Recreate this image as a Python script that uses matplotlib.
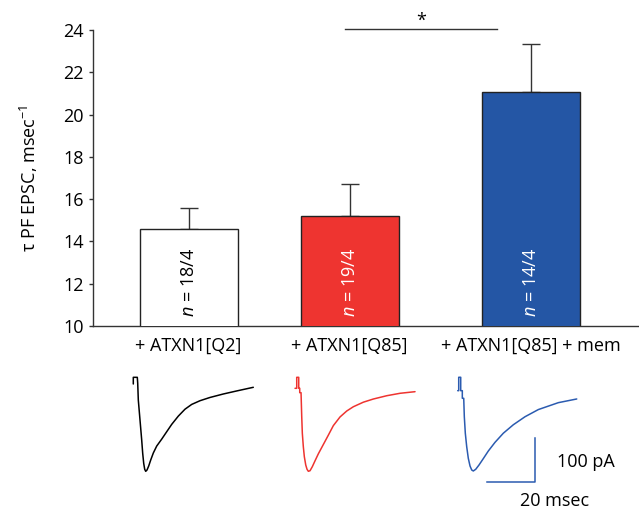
import matplotlib
matplotlib.use("Agg")
import matplotlib.pyplot as plt
import numpy as np

plt.rcParams['font.family'] = ['Open Sans', 'DejaVu Sans']
plt.rcParams['mathtext.fontset'] = 'custom'
plt.rcParams['mathtext.rm'] = 'Open Sans'
plt.rcParams['mathtext.it'] = 'Open Sans:italic'

# ---------------- data ----------------
categories = ['+ ATXN1[Q2]', '+ ATXN1[Q85]', '+ ATXN1[Q85] + mem']
means = [14.6, 15.2, 21.05]
sems = [1.0, 1.5, 2.3]
n_labels = ['18/4', '19/4', '14/4']
y_ticks = [10, 12, 14, 16, 18, 20, 22, 24]
sig_label = '*'

# example EPSC traces (time in ms, current in pA)
t_q2 = [0, 0, 1.68, 1.85, 2.10, 2.81, 3.52, 3.94, 4.36, 4.78, 5.20, 5.74, 6.46,
        7.30, 8.39, 9.81, 11.91, 14.0, 16.1, 18.87, 21.68, 24.49, 27.97, 32.16,
        37.74, 43.35, 50.31]
i_q2 = [0, 15.4, 15.4, 1.6, -36.9, -82.9, -129.0, -159.7, -182.7, -196.5,
        -201.2, -198.2, -188.9, -175.1, -159.0, -143.0, -127.0, -110.0, -93.0,
        -74.0, -58.0, -47.0, -38.5, -31.0, -23.0, -16.0, -7.6]
t_q85 = [0, 0.71, 0.71, 1.55, 1.55, 1.97, 1.97, 2.52, 2.81, 3.06, 3.48, 3.90,
         4.49, 5.03, 5.58, 6.29, 7.25, 8.39, 9.77, 12.16, 13.96, 16.06, 18.87,
         21.68, 24.44, 28.64, 32.83, 38.45, 44.03, 50.31]
i_q85 = [0, 0, 25.3, 25.3, 0, 0, -10.1, -10.1, -65.4, -103.7, -134.6, -157.6,
         -176.7, -186.6, -191.2, -189.9, -180.6, -167.0, -151.0, -126.5, -108.0,
         -86.0, -66.0, -52.3, -42.5, -32.0, -24.7, -17.1, -11.5, -7.8]
t_mem = [0, 0.42, 0.42, 1.26, 1.26, 1.93, 1.93, 2.52, 2.77, 3.19, 3.77, 4.44,
         5.16, 5.87, 6.54, 7.55, 8.93, 10.73, 12.83, 15.64, 19.12, 23.31, 28.22,
         33.8, 42.18, 49.9]
i_mem = [0, 0, 30.9, 30.9, 0, 0, -17.5, -17.5, -59.9, -98.2, -129.0, -155.8,
         -173.5, -182.7, -185.0, -181.1, -171.2, -156.5, -139.0, -119.0, -98.0,
         -78.5, -60.0, -43.5, -27.6, -19.1]
scale_t = 20    # ms
scale_i = 100   # pA

# ---------------- layout / style ----------------
W, H = 639, 509
bar_x = [1.0, 2.0, 3.126]
bar_width = 0.61
bar_colors = ['white', '#EE3430', '#2456A5']
text_colors = ['black', 'white', 'white']
trace_colors = ['black', '#EE3430', '#2B5BB0']
trace_t_offsets = [0.0, 67.8, 136.0]
trace_i_offsets = [0.0, -9.9, -15.4]
FS = 13

fig = plt.figure(figsize=(W / 100, H / 100), dpi=100)
ax = fig.add_axes([92.7 / W, (H - 326) / H, (W - 92.7) / W, (326 - 30) / H])

ax.bar(bar_x, means, width=bar_width, bottom=0, color=bar_colors,
       edgecolor='#222222', linewidth=1.0, zorder=3)
ax.errorbar(bar_x, means, yerr=[np.zeros(len(sems)), sems], fmt='none',
            ecolor='#333333', elinewidth=1.0, capsize=6.5, capthick=1.0, zorder=2)

for x, lab, c in zip(bar_x, n_labels, text_colors):
    ax.text(x, 12.05, r'$n$ = ' + lab, rotation=90, ha='center', va='center',
            color=c, fontsize=FS, zorder=4)

ax.set_ylim(10, 24)
ax.set_xlim(0.404, 3.797)
ax.set_yticks(y_ticks)
ax.set_yticklabels([str(v) for v in y_ticks], fontsize=FS)
ax.set_xticks(bar_x)
ax.set_xticklabels(categories, fontsize=FS)
ax.tick_params(axis='x', length=0, pad=8)
ax.tick_params(axis='y', length=3.2, width=1.0, pad=3.0, color='#333333')
for s in ['top', 'right']:
    ax.spines[s].set_visible(False)
for s in ['left', 'bottom']:
    ax.spines[s].set_color('#333333')
    ax.spines[s].set_linewidth(1.0)
ax.set_ylabel('τ PF EPSC, msec$^{-1}$', fontsize=FS, labelpad=17)

# significance bar
ax.plot([1.971, 2.913], [24.05, 24.05], color='#333333', lw=1.0, clip_on=False)
ax.text(2.443, 24.45, sig_label, ha='center', va='center', fontsize=FS,
        clip_on=False)

# traces
tax = fig.add_axes([100 / W, 0, (W - 100) / W, 149 / H])
tax.set_xlim(-13.96, 212.0)
tax.set_ylim(-288.0, 55.3)
tax.axis('off')
for t, i, c, dt, di in zip([t_q2, t_q85, t_mem], [i_q2, i_q85, i_mem],
                           trace_colors, trace_t_offsets, trace_i_offsets):
    tax.plot(np.array(t) + dt, np.array(i) + di, color=c, lw=1.1,
             solid_joinstyle='round', solid_capstyle='round')

sb_x1, sb_y0 = 168.4, -225.1
tax.plot([sb_x1 - scale_t, sb_x1, sb_x1], [sb_y0, sb_y0, sb_y0 + scale_i],
         color='#2B5BB0', lw=1.1)
tax.text(sb_x1 + 9.2, sb_y0 + 45.4, f'{scale_i} pA', ha='left', va='center',
         fontsize=FS)
tax.text(sb_x1 + 8.2, sb_y0 - 44.5, f'{scale_t} msec', ha='center', va='center',
         fontsize=FS)

fig.savefig('out.png', dpi=100)
